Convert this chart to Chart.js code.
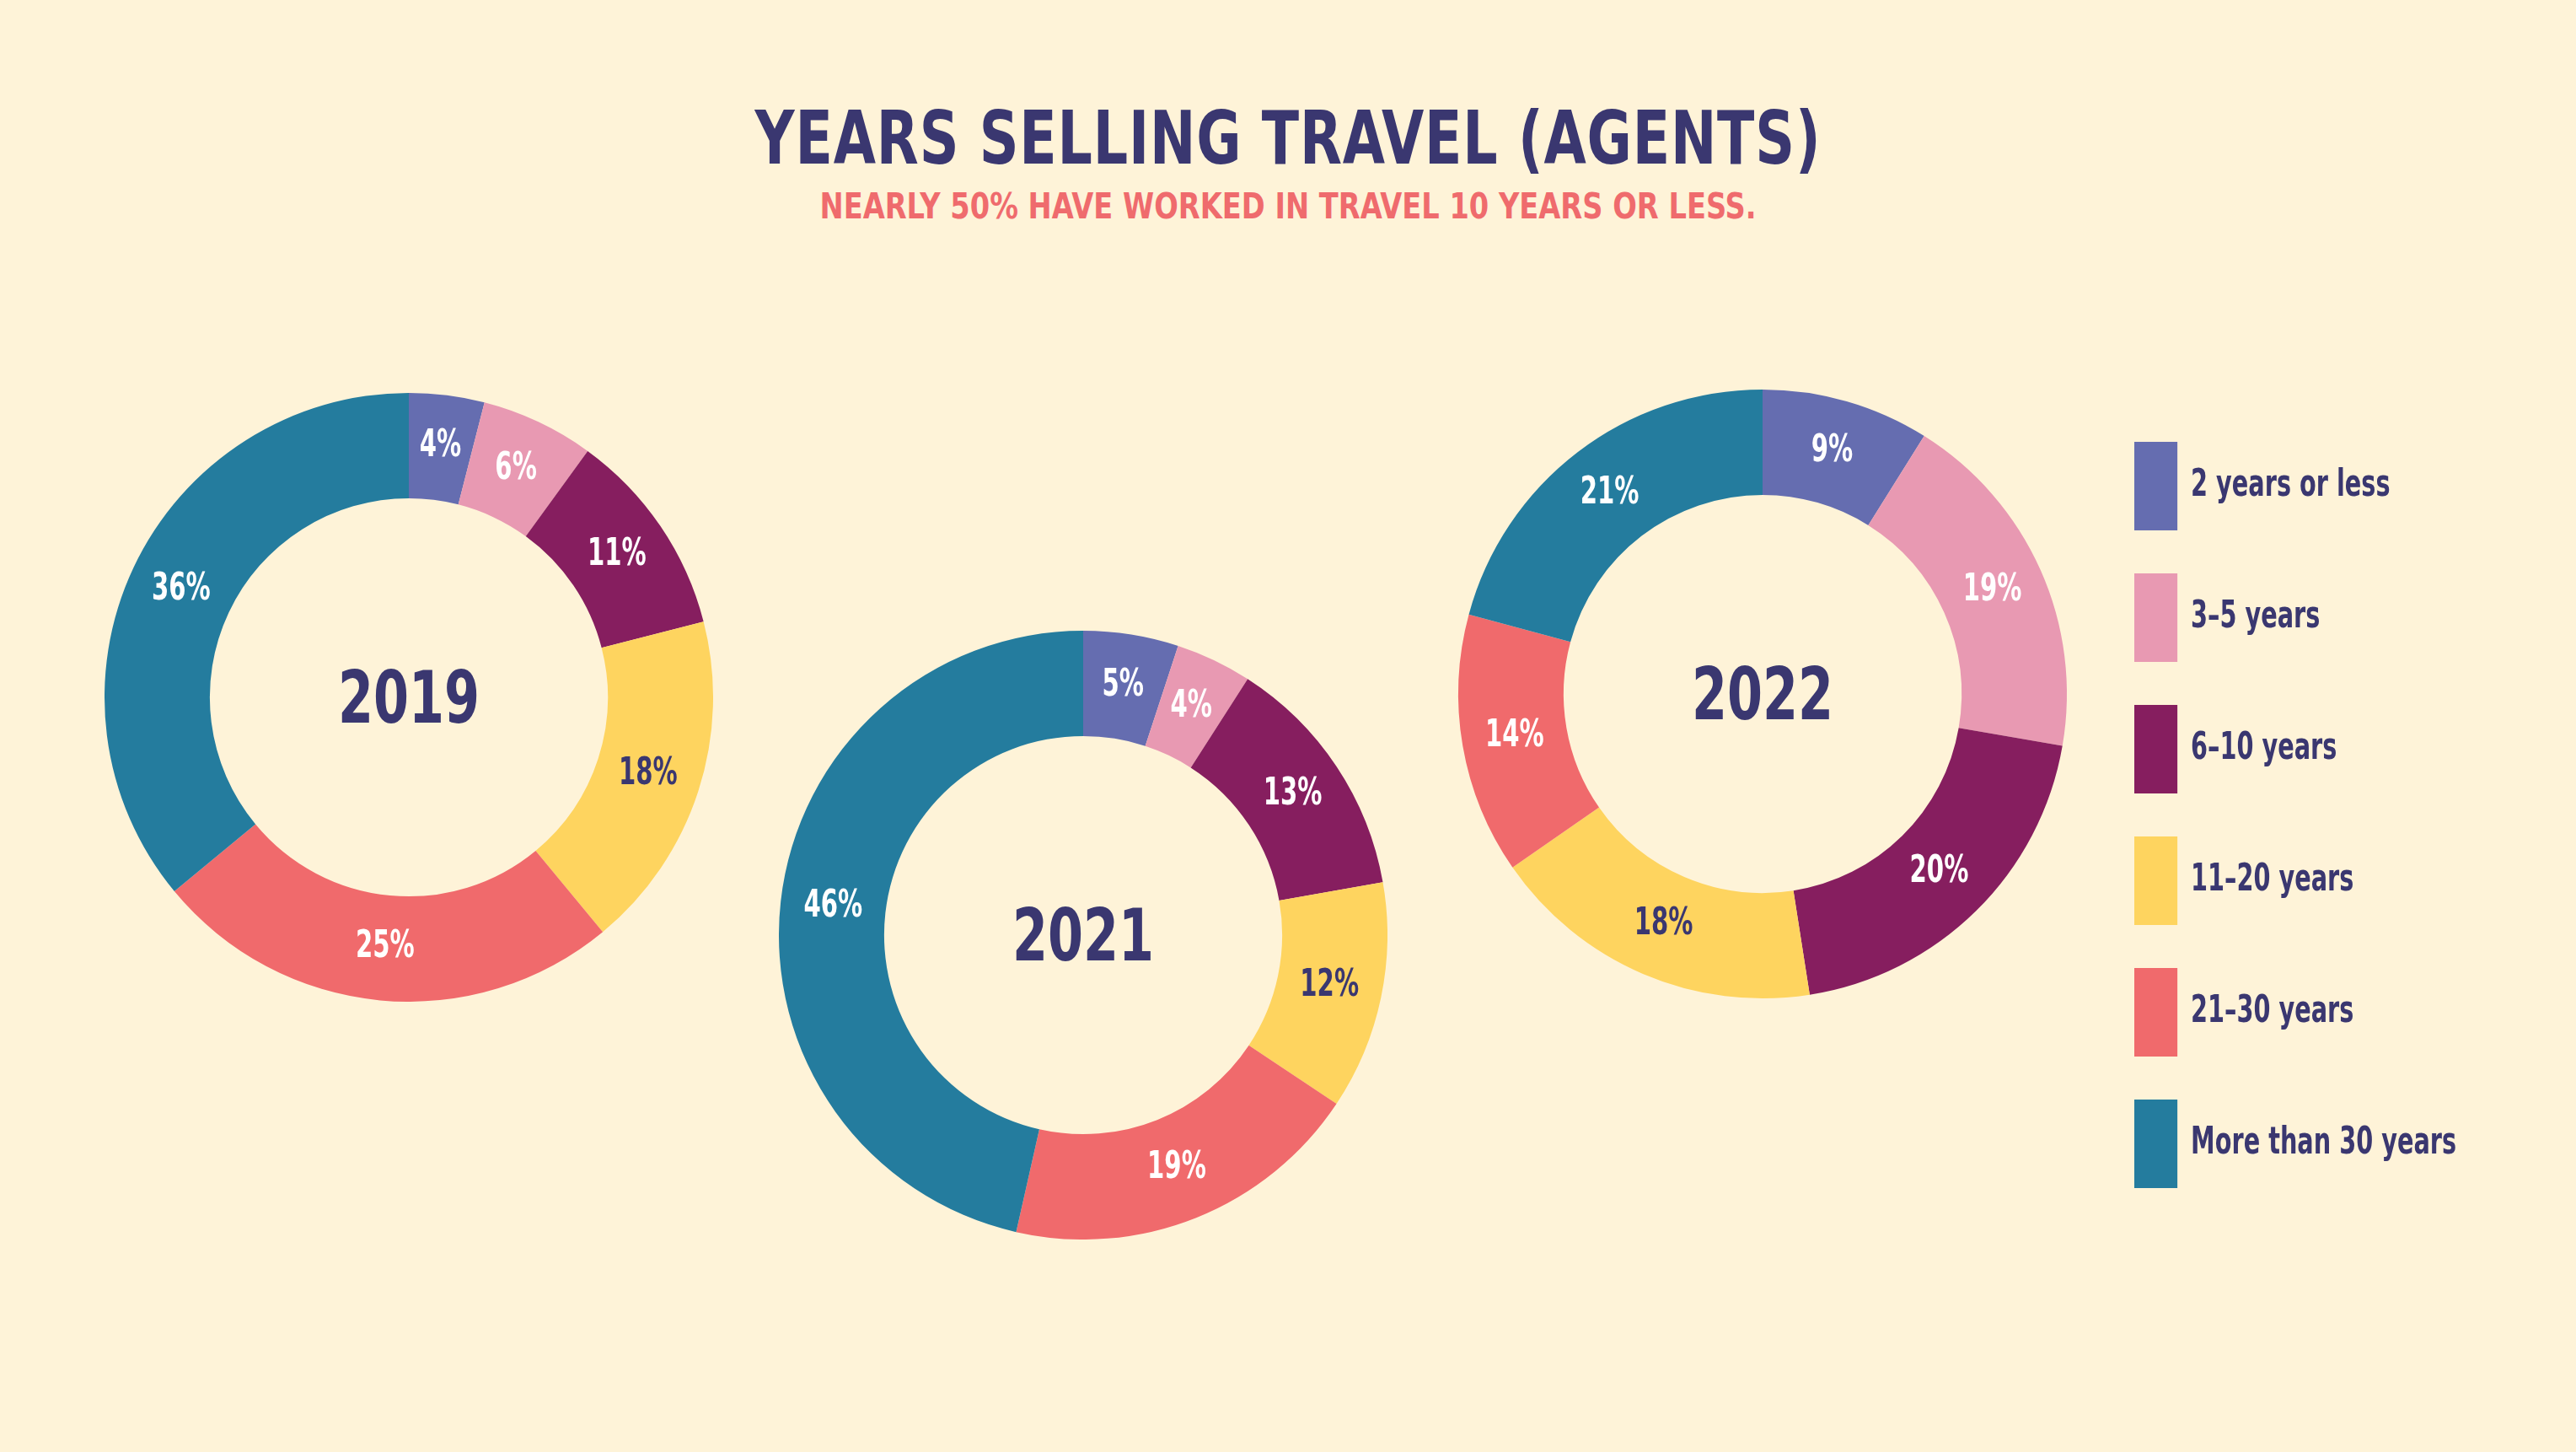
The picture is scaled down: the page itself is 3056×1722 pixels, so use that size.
<!DOCTYPE html>
<html>
<head>
<meta charset="utf-8">
<script src="https://cdn.jsdelivr.net/npm/chart.js@4/dist/chart.umd.min.js"></script>
<style>
  html, body { margin: 0; padding: 0; }
  body { width: 3056px; height: 1722px; background: #FEF3D8; position: relative; overflow: hidden;
         font-family: 'Liberation Sans Narrow', 'DejaVu Sans Condensed', 'Liberation Sans', sans-serif; }
  .title { position: absolute; left: 0; width: 3056px; text-align: center; font-weight: bold; line-height: 1; white-space: nowrap; transform-origin: 1528px 50%; }
  #t1 { top: 121px; font-size: 87px; color: #3A3770; letter-spacing: 1px; transform: scaleX(0.83); }
  #t2 { top: 223px; font-size: 43px; color: #EF6B6D; transform: scaleX(0.87); }
  .box { position: absolute; }
  .box canvas { display: block; }
</style>
</head>
<body>
<div class="title" id="t1">YEARS SELLING TRAVEL (AGENTS)</div>
<div class="title" id="t2">NEARLY 50% HAVE WORKED IN TRAVEL 10 YEARS OR LESS.</div>

<div class="box" style="left:124px; top:466px; width:722px; height:722px;"><canvas id="c2019"></canvas></div>
<div class="box" style="left:924px; top:748px; width:722px; height:722px;"><canvas id="c2021"></canvas></div>
<div class="box" style="left:1701px; top:186px; width:1500px; height:1274px;"><canvas id="c2022"></canvas></div>

<script>
// ---- data ----
const categories = ['2 years or less', '3\u20135 years', '6\u201310 years', '11\u201320 years', '21\u201330 years', 'More than 30 years'];
const years = ['2019', '2021', '2022'];
const values2019 = [4, 6, 11, 18, 25, 36];
const values2021 = [5, 4, 13, 12, 19, 46];
const values2022 = [9, 19, 20, 18, 14, 21];

// ---- style ----
const colors = ['#656DB0', '#E899B2', '#861E5F', '#FED45F', '#F06A6C', '#247C9E'];
const labelColors = ['#FFFFFF', '#FFFFFF', '#FFFFFF', '#3A3770', '#FFFFFF', '#FFFFFF'];
const NAVY = '#3A3770';
const FONT = "'Liberation Sans Narrow', 'DejaVu Sans Condensed', 'Liberation Sans', sans-serif";
const LEGEND_SX = 0.71;     // horizontal squeeze to mimic the condensed face
const DONUT_AREA = 780;     // width of the 2022 chart area (donut centred in it)

const donutLabels = {
  id: 'donutLabels',
  afterDatasetsDraw(chart, args, opts) {
    const ctx = chart.ctx;
    const meta = chart.getDatasetMeta(0);
    const ds = chart.data.datasets[0];
    ctx.save();
    ctx.textAlign = 'center';
    ctx.textBaseline = 'middle';
    ctx.font = 'bold 45px ' + FONT;
    meta.data.forEach((arc, i) => {
      const p = arc.tooltipPosition(true);
      ctx.save();
      ctx.translate(p.x, p.y);
      ctx.scale(0.72, 1);
      ctx.fillStyle = labelColors[i];
      ctx.fillText(ds.data[i] + '%', 0, -1);
      ctx.restore();
    });
    const c = meta.data[0];
    ctx.translate(c.x, c.y);
    ctx.scale(0.78, 1);
    ctx.font = 'bold 86px ' + FONT;
    ctx.fillStyle = NAVY;
    ctx.fillText(opts.year, 0, 8);
    ctx.restore();
  }
};

// squeeze the legend horizontally (legend layer is drawn between beforeDraw and beforeDatasetsDraw)
const legendSqueeze = {
  id: 'legendSqueeze',
  beforeDraw(chart) {
    const lg = chart.legend;
    if (!lg || !lg.options.display) return;
    const ox = lg.left + lg.options.labels.padding;
    const ctx = chart.ctx;
    ctx.save();
    ctx.translate(ox, 0);
    ctx.scale(LEGEND_SX, 1);
    ctx.translate(-ox, 0);
    chart.$squeezed = true;
  },
  beforeDatasetsDraw(chart) {
    if (chart.$squeezed) { chart.ctx.restore(); chart.$squeezed = false; }
  }
};

function makeDonut(id, year, values, withLegend) {
  return new Chart(document.getElementById(id), {
    type: 'doughnut',
    data: {
      labels: categories,
      datasets: [{
        data: values,
        backgroundColor: colors,
        borderWidth: 0,
        radius: 361,
        cutout: '65.4%'
      }]
    },
    options: {
      responsive: true,
      maintainAspectRatio: false,
      animation: false,
      events: [],
      layout: { padding: { left: 0, right: 0, top: 0, bottom: 0 } },
      plugins: {
        tooltip: { enabled: false },
        donutLabels: { year: year },
        legend: withLegend ? {
          display: true,
          position: 'right',
          align: 'end',
          labels: {
            boxWidth: Math.round(51 / LEGEND_SX),
            boxHeight: 105,
            padding: 51,
            color: NAVY,
            font: { family: FONT, size: 45, weight: 'bold' }
          }
        } : { display: false }
      }
    },
    plugins: withLegend ? [donutLabels, legendSqueeze] : [donutLabels]
  });
}

makeDonut('c2019', years[0], values2019, false);
makeDonut('c2021', years[1], values2021, false);
const c22 = makeDonut('c2022', years[2], values2022, true);
// make the chart area exactly DONUT_AREA wide so the legend starts where it should
const extra = c22.width - c22.legend.width - DONUT_AREA;
c22.options.layout.padding.right = Math.max(0, extra);
c22.update();
</script>
</body>
</html>
